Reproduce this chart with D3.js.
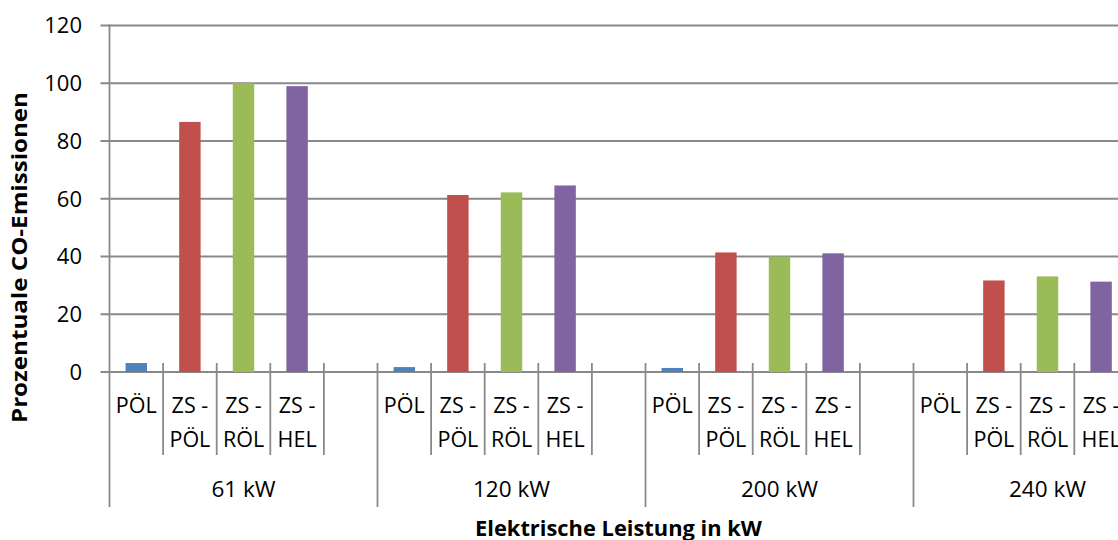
<!DOCTYPE html>
<html>
<head>
<meta charset="utf-8">
<script src="https://cdn.jsdelivr.net/npm/d3@7"></script>
<style>
  body { margin: 0; background: #fff; }
  svg text { font-family: "Open Sans", "Noto Sans", sans-serif; fill: #000; }
</style>
</head>
<body>
<svg id="chart" width="1118" height="540"></svg>
<script>
// Global: chart data
const groups = ['61 kW', '120 kW', '200 kW', '240 kW'];
const subCats = ['PÖL', 'ZS - PÖL', 'ZS - RÖL', 'ZS - HEL', '']; // last slot is empty in every group
const seriesColors = ['#4F81BD', '#C0504D', '#9BBB59', '#8064A2'];

// percent CO emissions, one array per group (PÖL, ZS-PÖL, ZS-RÖL, ZS-HEL)
const vals61 = [3.1, 86.6, 100, 99.0];
const vals120 = [1.7, 61.3, 62.2, 64.6];
const vals200 = [1.4, 41.4, 40.0, 41.1];
const vals240 = [0, 31.7, 33.1, 31.3];
const allVals = [vals61, vals120, vals200, vals240];

const yTicks = [0, 20, 40, 60, 80, 100, 120];

const gridColor = '#898989';
const labelSize = '21.5px';

// plot area (runs off the right edge like in the original)
const plotLeft = 109.5, plotTop = 25.5, plotBottom = 372;
const slot = 53.6;

const svg = d3.select('#chart');

// flat band scale over every group/sub-category slot
const slotKeys = [];
groups.forEach(g => subCats.forEach((c, i) => slotKeys.push(g + '|' + i)));

const x = d3.scaleBand()
    .domain(slotKeys)
    .range([plotLeft, plotLeft + slot * slotKeys.length])
    .padding(0);

const y = d3.scaleLinear()
    .domain([0, 120])
    .range([plotBottom, plotTop]);

// gridlines + left tick marks
svg.append('g')
    .selectAll('line')
    .data(yTicks)
    .enter().append('line')
    .attr('x1', plotLeft - 9)
    .attr('x2', 1118)
    .attr('y1', d => y(d))
    .attr('y2', d => y(d))
    .attr('stroke', gridColor)
    .attr('stroke-width', 1.8);

// y tick labels
svg.append('g')
    .selectAll('text')
    .data(yTicks)
    .enter().append('text')
    .attr('x', 82)
    .attr('y', d => y(d))
    .attr('dy', '0.36em')
    .attr('text-anchor', 'end')
    .style('font-size', '22px')
    .text(d => d);

// bars, one per filled slot, centred in the slot
const barData = [];
groups.forEach((g, gi) => {
    allVals[gi].forEach((v, si) => {
        barData.push({ key: g + '|' + si, value: v, color: seriesColors[si] });
    });
});

const barW = x.bandwidth() * 0.4;
svg.append('g')
    .selectAll('rect')
    .data(barData.filter(d => d.value > 0))
    .enter().append('rect')
    .attr('x', d => x(d.key) + (x.bandwidth() - barW) / 2)
    .attr('width', barW)
    .attr('y', d => y(d.value))
    .attr('height', d => y(0) - y(d.value))
    .attr('fill', d => d.color);

// y axis line
svg.append('line')
    .attr('x1', plotLeft).attr('x2', plotLeft)
    .attr('y1', plotTop - 1).attr('y2', 507)
    .attr('stroke', gridColor)
    .attr('stroke-width', 1.8);

// category tick marks (short) and group separators (long)
const catAxis = svg.append('g');
slotKeys.forEach((k, i) => {
    if (i === 0) return;
    const xx = x(k);
    const isGroupEdge = i % subCats.length === 0;
    catAxis.append('line')
        .attr('x1', xx).attr('x2', xx)
        .attr('y1', 363)
        .attr('y2', isGroupEdge ? 507 : 455)
        .attr('stroke', gridColor)
        .attr('stroke-width', 1.8);
});
// closing line after the last slot
catAxis.append('line')
    .attr('x1', x.range()[1]).attr('x2', x.range()[1])
    .attr('y1', 363).attr('y2', 507)
    .attr('stroke', gridColor)
    .attr('stroke-width', 1.8);

// sub-category labels, split on the dash like Excel wraps them
groups.forEach(g => {
    subCats.forEach((c, i) => {
        if (!c) return;
        const cx = x(g + '|' + i) + x.bandwidth() / 2;
        const lines = c.indexOf(' - ') > -1 ? [c.split(' - ')[0] + ' -', c.split(' - ')[1]] : [c];
        const t = catAxis.append('text')
            .attr('text-anchor', 'middle')
            .style('font-size', labelSize);
        lines.forEach((ln, li) => {
            t.append('tspan')
                .attr('x', cx)
                .attr('y', 413 + li * 33.5)
                .text(ln);
        });
    });
});

// group labels centred over the whole group
groups.forEach(g => {
    const x0 = x(g + '|0');
    const x1 = x(g + '|' + (subCats.length - 1)) + x.bandwidth();
    catAxis.append('text')
        .attr('x', (x0 + x1) / 2)
        .attr('y', 497)
        .attr('text-anchor', 'middle')
        .style('font-size', '22.5px')
        .text(g);
});

// axis titles (stretched to the width the original font takes)
svg.append('text')
    .attr('transform', 'translate(27,257.5) rotate(-90)')
    .attr('text-anchor', 'middle')
    .attr('textLength', 331)
    .attr('lengthAdjust', 'spacingAndGlyphs')
    .style('font-size', '22px')
    .style('font-weight', 'bold')
    .text('Prozentuale CO-Emissionen');

svg.append('text')
    .attr('x', 618.5)
    .attr('y', 536)
    .attr('text-anchor', 'middle')
    .attr('textLength', 287)
    .attr('lengthAdjust', 'spacingAndGlyphs')
    .style('font-size', '22px')
    .style('font-weight', 'bold')
    .text('Elektrische Leistung in kW');
</script>
</body>
</html>
